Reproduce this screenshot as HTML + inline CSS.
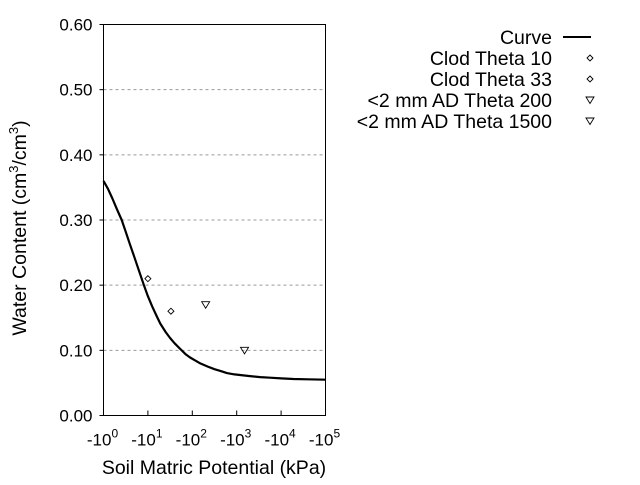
<!DOCTYPE html>
<html><head><meta charset="utf-8"><style>
body{margin:0;background:#fff;}
svg text{font-family:"Liberation Sans",sans-serif;fill:#000;}
</style></head><body>
<svg width="640" height="480" xmlns="http://www.w3.org/2000/svg">
<g id="grid"></g>
<rect x="103.5" y="24.5" width="222" height="391" fill="none" stroke="#000" stroke-width="1"/>
<g id="ticks"></g>
<g id="marks"></g>
<text x="0" y="0" transform="translate(26,228) rotate(-90)" text-anchor="middle" font-size="19.5">Water Content (cm<tspan font-size="13" dy="-8">3</tspan><tspan dy="8">/cm</tspan><tspan font-size="13" dy="-8">3</tspan><tspan dy="8">)</tspan></text>
<text x="214" y="474" text-anchor="middle" font-size="19.5">Soil Matric Potential (kPa)</text>
<g id="legend"></g>
</svg>
<script>
const yTicks=[0,0.1,0.2,0.3,0.4,0.5,0.6];
const yTickLabels=["0.00","0.10","0.20","0.30","0.40","0.50","0.60"];
const xTicks=[0,1,2,3,4,5];
const curveLogX=[0,0.1,0.2,0.3,0.41,0.5,0.6,0.7,0.8,0.91,1.0,1.1,1.2,1.28,1.4,1.5,1.6,1.73,1.85,1.95,2.05,2.18,2.35,2.5,2.65,2.78,2.95,3.1,3.3,3.53,3.75,4,4.28,4.6,5];
const curveY=[0.36,0.348,0.333,0.317,0.30,0.282,0.262,0.242,0.222,0.20,0.183,0.167,0.152,0.141,0.128,0.119,0.111,0.102,0.094,0.089,0.085,0.08,0.075,0.071,0.068,0.065,0.063,0.062,0.0605,0.059,0.058,0.057,0.056,0.0555,0.055];
const pointNames=["Clod Theta 10","Clod Theta 33","<2 mm AD Theta 200","<2 mm AD Theta 1500"];
const pointKPa=[10,33,200,1500];
const pointY=[0.21,0.16,0.17,0.10];
const pointShape=["diamond","diamond","triangle","triangle"];
const NS="http://www.w3.org/2000/svg";
const X0=103.5,X1=325.5,Y0=415.5,Y1=24.5;
const sx=l=>X0+(X1-X0)*l/5;
const sy=v=>Y0-(Y0-Y1)*v/0.6;
function mk(t,a,p){const e=document.createElementNS(NS,t);for(const k in a)e.setAttribute(k,a[k]);(p||document.getElementById('marks')).appendChild(e);return e;}
const grid=document.getElementById('grid'),ticks=document.getElementById('ticks');
yTicks.forEach((v,i)=>{
 if(v>0&&v<0.6){const g=mk('line',{x1:X0,x2:X1,y1:sy(v),y2:sy(v),stroke:'#999','stroke-dasharray':'3,3'},grid);
 
 }
 const t=mk('line',{x1:X0-4,x2:X0,y1:sy(v),y2:sy(v),stroke:'#000'},ticks);
 
 
 const tx=mk('text',{x:X0-11,y:sy(v)+6,'text-anchor':'end','font-size':'17'},ticks);tx.textContent=yTickLabels[i];
 
 
});
xTicks.forEach(l=>{
 const t=mk('line',{x1:sx(l),x2:sx(l),y1:Y0,y2:Y0-5,stroke:'#000'},ticks);
 
 
 const tx=mk('text',{x:sx(l)-1,y:Y0+30,'text-anchor':'middle','font-size':'17'},ticks);
 tx.innerHTML='-10<tspan font-size="12" dy="-8">'+l+'</tspan>';
 
 
});
const d=curveLogX.map((l,i)=>(i?'L':'M')+sx(l).toFixed(1)+','+sy(curveY[i]).toFixed(1)).join('');
const c=mk('path',{d:d,fill:'none',stroke:'#000','stroke-width':'2.2','stroke-linejoin':'round'});


function marker(shape,x,y,p){
 if(shape==='diamond')return mk('path',{d:`M${x},${y-3}L${x+3},${y}L${x},${y+3}L${x-3},${y}Z`,fill:'none',stroke:'#000','stroke-width':'0.9'},p);
 return mk('path',{d:`M${x-4},${y-3}L${x+4},${y-3}L${x},${y+3.5}Z`,fill:'none',stroke:'#000','stroke-width':'0.9'},p);
}
pointKPa.forEach((k,i)=>{const m=marker(pointShape[i],sx(Math.log10(k)),sy(pointY[i]));
 
 });
const lg=document.getElementById('legend');
const names=["Curve"].concat(pointNames);
const rowY=[37,58,79,100,121];
names.forEach((n,i)=>{
 const t=mk('text',{x:552,y:rowY[i]+7,'text-anchor':'end','font-size':'19.5'},lg);t.textContent=n;
 
 
 let m;
 if(i===0)m=mk('line',{x1:563,x2:591,y1:rowY[i],y2:rowY[i],stroke:'#000','stroke-width':'2'},lg);
 else m=marker(pointShape[i-1],590,rowY[i],lg);
 
 
});
</script>
</body></html>
